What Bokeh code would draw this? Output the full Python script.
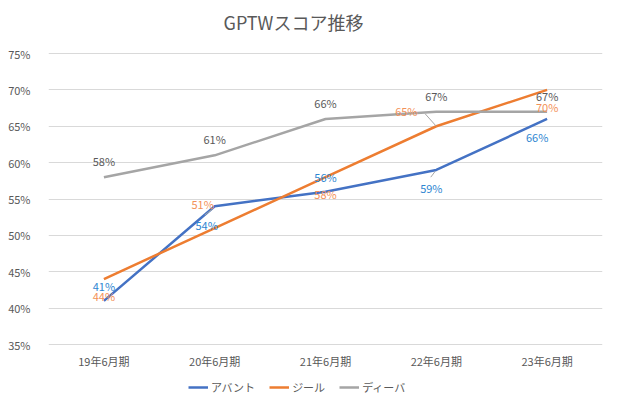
from bokeh.plotting import figure
from bokeh.models import (FactorRange, Range1d, ColumnDataSource, LabelSet, Label, Legend,
                          LegendItem, FixedTicker, NumeralTickFormatter)
from bokeh.transform import dodge
from bokeh.core.properties import value
from bokeh.embed import file_html
from bokeh.resources import INLINE

# ---- data ----
title_text = "GPTWスコア推移"
periods = ["19年6月期", "20年6月期", "21年6月期", "22年6月期", "23年6月期"]
avant = [0.41, 0.54, 0.56, 0.59, 0.66]
zeal = [0.44, 0.51, 0.58, 0.65, 0.70]
diva = [0.58, 0.61, 0.66, 0.67, 0.67]
series_names = ["アバント", "ジール", "ディーバ"]
y_ticks = [0.35, 0.40, 0.45, 0.50, 0.55, 0.60, 0.65, 0.70, 0.75]

# ---- styles ----
FONT = "Noto Sans CJK JP"
line_colors = ["#4472C4", "#ED7D31", "#A5A5A5"]
label_colors = ["#2E86D1", "#F39158", "#595959"]
# label offsets in px (dx, dy; dy up)
label_dx = [[0, -8, 0, -5, -10], [0, -12, 0, -30, 0], [0, 0, 0, 0, 0]]
label_dy = [[15, -19, 15, -18, -18], [-17, 24, -17, 15, -17], [16, 16, 16, 16, 16]]

# layout (px): frame spans 4..404 vertically, gridlines 0.75 at px 53, 0.35 at px 344
W, H = 618, 408
FRAME_LEFT, FRAME_RIGHT = 48, 602
FRAME_TOP, FRAME_BOTTOM = 4, 404
GRID_TOP_PX, GRID_BOTTOM_PX = 53, 344
TITLE_LEFT_PX, TITLE_MID_PX = 223, 21
y_lo, y_hi = y_ticks[0], y_ticks[-1]
px_per_unit = (GRID_BOTTOM_PX - GRID_TOP_PX) / (y_hi - y_lo)
y_start = y_lo - (FRAME_BOTTOM - GRID_BOTTOM_PX) / px_per_unit
y_end = y_hi + (GRID_TOP_PX - FRAME_TOP) / px_per_unit

p = figure(width=W, height=H, x_range=FactorRange(*periods),
           y_range=Range1d(y_start, y_end), output_backend="svg",
           toolbar_location=None, min_border_left=FRAME_LEFT, min_border_right=W - FRAME_RIGHT,
           min_border_top=FRAME_TOP, min_border_bottom=H - FRAME_BOTTOM)
p.title.visible = False

# chart title drawn inside the (extended) frame
title_x = (TITLE_LEFT_PX - FRAME_LEFT) / ((FRAME_RIGHT - FRAME_LEFT) / len(periods))
title_y = y_hi + (GRID_TOP_PX - TITLE_MID_PX) / px_per_unit
p.add_layout(Label(x=title_x, y=title_y, text=title_text, text_align="left",
                   text_baseline="middle", text_font=FONT, text_font_size="18px",
                   text_color="#595959"))

p.outline_line_color = None
p.background_fill_color = "white"
p.border_fill_color = "white"
p.xgrid.grid_line_color = None
p.ygrid.grid_line_color = "#D9D9D9"
p.ygrid.grid_line_width = 1
p.yaxis.ticker = FixedTicker(ticks=y_ticks)
p.yaxis.formatter = NumeralTickFormatter(format="0%")
p.xaxis.fixed_location = y_lo
for ax in (p.xaxis, p.yaxis):
    ax.axis_line_color = None
    ax.major_tick_line_color = None
    ax.minor_tick_line_color = None
    ax.major_label_text_font = FONT
    ax.major_label_text_font_size = "11px"
    ax.major_label_text_color = "#595959"
p.yaxis.major_label_standoff = 12
p.xaxis.major_label_standoff = 2

all_series = [avant, zeal, diva]
renderers = []
for i, vals in enumerate(all_series):
    src = ColumnDataSource(dict(x=periods, y=vals))
    r = p.line("x", "y", source=src, line_color=line_colors[i], line_width=2.5)
    renderers.append(r)
    for j in range(len(vals)):
        lsrc = ColumnDataSource(dict(x=[periods[j]], y=[vals[j]],
                                     txt=[f"{round(vals[j]*100)}%"]))
        labels = LabelSet(x="x", y="y", text="txt", source=lsrc,
                          x_offset=label_dx[i][j], y_offset=label_dy[i][j],
                          text_align="center", text_baseline="middle",
                          text_font=value(FONT), text_font_size="11px",
                          text_color=label_colors[i])
        p.add_layout(labels)

# leader lines: (series, point, start dx, start dy, end dx, end dy) in category / value units
leaders = [(0, 1, -0.02, -0.004, -0.09, -0.012),
           (0, 3, -0.01, -0.002, -0.05, -0.010),
           (1, 3, 0.0, 0.0, -0.10, 0.017)]
for si, pi, a, b, c, d in leaders:
    v = all_series[si][pi]
    s = ColumnDataSource(dict(x=[periods[pi]], y0=[v + b], y1=[v + d]))
    p.segment(x0=dodge("x", a, range=p.x_range), y0="y0",
              x1=dodge("x", c, range=p.x_range), y1="y1",
              source=s, line_color="#A6A6A6", line_width=1)

legend = Legend(items=[LegendItem(label=n, renderers=[r]) for n, r in zip(series_names, renderers)],
                orientation="horizontal", location=(140, 9))
legend.label_text_font = FONT
legend.label_text_font_size = "11px"
legend.label_text_color = "#595959"
legend.glyph_width = 20
legend.glyph_height = 12
legend.label_standoff = 3
legend.spacing = 14
legend.padding = 0
legend.margin = 0
legend.border_line_color = None
legend.background_fill_alpha = 0
p.add_layout(legend)

open("out.html", "w").write(file_html(p, INLINE))
